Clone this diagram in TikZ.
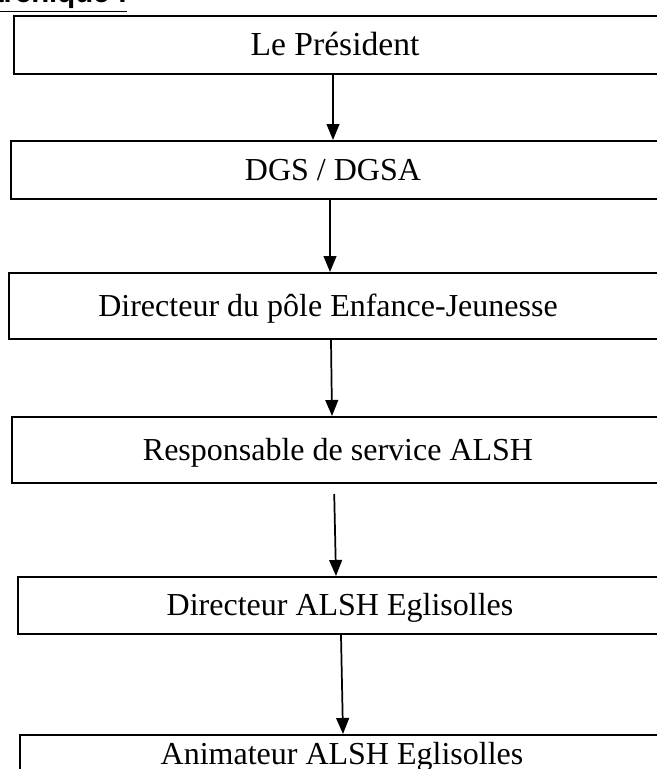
\documentclass[tikz,border=0pt]{standalone}
\usepackage{fontspec}
\setmainfont{Liberation Serif}
\newfontfamily\headfont{Liberation Sans}
\usetikzlibrary{arrows.meta}

\begin{document}
\begin{tikzpicture}[x=0.375pt, y=-0.375pt,
  orgbox/.style={draw, line width=0.75pt, anchor=north west, minimum width=250pt, inner sep=0pt},
  orglabel/.style={anchor=base, font=\fontsize{12}{14}\selectfont},
  link/.style={-{Triangle[length=6pt, width=4.8pt]}, line width=0.65pt}]
  \clip (0,0) rectangle (657,769);
  % heading, cut by the top edge
  \node[anchor=base east, inner sep=0pt, font=\headfont\bfseries\fontsize{11}{13}\selectfont] (head) at (128,2) {\underline{hiérarchique :}};
  % boxes
  \node[orgbox, minimum height=21.75pt] (p1) at (13,15) {};
  \node[orgbox, minimum height=21.75pt] (p2) at (10,140) {};
  \node[orgbox, minimum height=24.75pt] (p3) at (8,272) {};
  \node[orgbox, minimum height=24.75pt] (p4) at (11,416) {};
  \node[orgbox, minimum height=21.4pt] (p5) at (17,576) {};
  \node[orgbox, minimum height=30pt] (p6) at (19,734) {};
  % labels
  \node[orglabel] (t1) at (335,55) {\fontsize{12.6}{14}\selectfont Le Président};
  \node[orglabel] (t2) at (333,180) {DGS / DGSA};
  \node[orglabel] (t3) at (328,316) {Directeur du pôle Enfance-Jeunesse};
  \node[orglabel] (t4) at (338,460) {Responsable de service ALSH};
  \node[orglabel] (t5) at (340,615) {Directeur ALSH Eglisolles};
  \node[orglabel] (t6) at (342,764) {Animateur ALSH Eglisolles};
  % arrows
  \coordinate (x1) at (333,0);
  \coordinate (x2) at (330,0);
  \coordinate (x3a) at (331,0);
  \coordinate (x3b) at (332,0);
  \coordinate (x4a) at (334,0);
  \coordinate (x4b) at (336,0);
  \coordinate (x5a) at (341,0);
  \coordinate (x5b) at (343,0);
  \draw [link] (p1.south -| x1) -- (p2.north -| x1);
  \draw [link] (p2.south -| x2) -- (p3.north -| x2);
  \draw [link] (p3.south -| x3a) -- (p4.north -| x3b);
  \draw [link, shorten <=3.75pt] (p4.south -| x4a) -- (p5.north -| x4b);
  \draw [link] (p5.south -| x5a) -- (p6.north -| x5b);
\end{tikzpicture}
\end{document}
